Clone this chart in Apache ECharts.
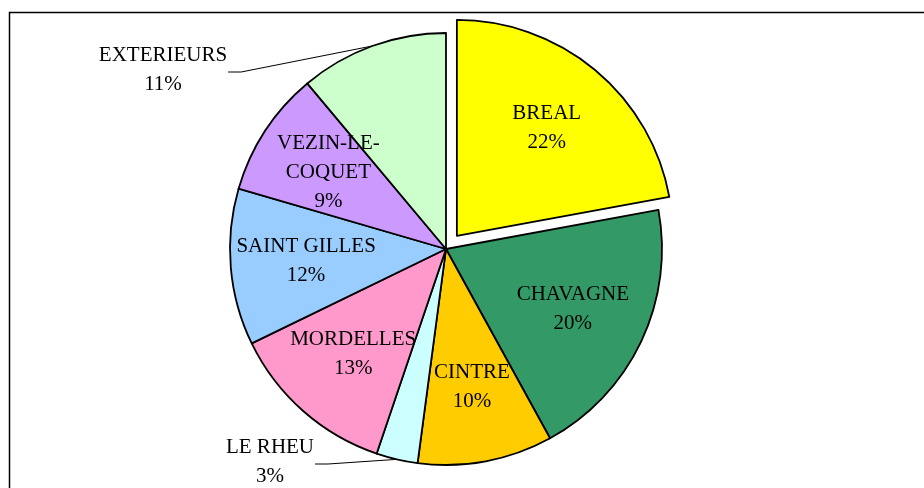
<!DOCTYPE html>
<html><head><meta charset="utf-8">
<script src="https://cdn.jsdelivr.net/npm/echarts@6/dist/echarts.min.js"></script>
<style>html,body{margin:0;padding:0;background:#fff}#c{width:924px;height:488px}</style>
</head><body><div id="c"></div>
<script>
const categories = ['BREAL','CHAVAGNE','CINTRE','LE RHEU','MORDELLES','SAINT GILLES','VEZIN-LE-COQUET','EXTERIEURS'];
const labelTexts = ['BREAL','CHAVAGNE','CINTRE','LE RHEU','MORDELLES','SAINT GILLES','VEZIN-LE-\nCOQUET','EXTERIEURS'];
const values = [22.1, 19.9, 10.1, 3.1, 12.6, 11.7, 9.4, 11.1];
const colors = ['#FFFF00','#339966','#FFCC00','#CCFFFF','#FF99CC','#99CCFF','#CC99FF','#CCFFCC'];

const CX = 446, CY = 249, R = 216, EXPLODE = 17, INNER = 0.65;
const selectedIndex = 0;
// dragged label anchors (label block centers) for the two outside labels
const outsidePos = { 'LE RHEU': [270, 462], 'EXTERIEURS': [163, 70] };

const total = values.reduce((s, v) => s + v, 0);
const midAngle = [];
let acc = 0;
values.forEach(v => { midAngle.push((acc + v / 2) / total * 360); acc += v; });

const sliceData = categories.map((name, i) => ({
  name: name,
  value: values[i],
  selected: i === selectedIndex,
  itemStyle: { color: colors[i] }
}));

const labelData = categories.map((name, i) => {
  const isOut = !!outsidePos[name];
  return {
    name: name,
    value: values[i],
    label: { position: isOut ? 'outside' : 'inside' },
    labelLine: { show: isOut }
  };
});

const chart = echarts.init(document.getElementById('c'), null, { renderer: 'canvas' });
chart.setOption({
  animation: false,
  backgroundColor: '#fff',
  graphic: [{
    type: 'rect', silent: true,
    shape: { x: 9.5, y: 12.5, width: 1000, height: 1000 },
    style: { fill: null, stroke: '#000', lineWidth: 1.5 }
  }],
  series: [{
    type: 'pie',
    center: [CX, CY],
    radius: R,
    startAngle: 90,
    clockwise: true,
    selectedMode: 'single',
    selectedOffset: EXPLODE,
    emphasis: { disabled: true },
    itemStyle: { borderColor: '#000', borderWidth: 1.8 },
    label: { show: false },
    labelLine: { show: false },
    data: sliceData
  }, {
    type: 'pie',
    silent: true,
    center: [CX, CY],
    radius: R,
    startAngle: 90,
    clockwise: true,
    selectedMode: false,
    avoidLabelOverlap: false,
    emphasis: { disabled: true },
    itemStyle: { color: 'rgba(0,0,0,0)', borderWidth: 0 },
    label: {
      show: true,
      fontFamily: 'Liberation Serif',
      fontSize: 21,
      lineHeight: 29,
      color: '#000',
      align: 'center',
      formatter: p => labelTexts[p.dataIndex] + '\n' + Math.round(p.percent) + '%'
    },
    labelLine: { lineStyle: { color: '#000', width: 1 }, smooth: false },
    labelLayout: function (p) {
      const i = p.dataIndex;
      const a = midAngle[i] * Math.PI / 180;
      const off = i === selectedIndex ? EXPLODE : 0;
      const ox = CX + off * Math.sin(a), oy = CY - off * Math.cos(a);
      const name = categories[i];
      if (outsidePos[name]) {
        const lx = outsidePos[name][0], ly = outsidePos[name][1];
        const hw = p.labelRect.width / 2;
        const ex = ox + R * Math.sin(a), ey = oy - R * Math.cos(a);
        return {
          x: lx, y: ly, align: 'center', verticalAlign: 'middle',
          labelLinePoints: [[ex, ey], [lx + hw + 14, ly + 2], [lx + hw + 1, ly + 2]]
        };
      }
      return {
        x: ox + INNER * R * Math.sin(a),
        y: oy - INNER * R * Math.cos(a),
        align: 'center', verticalAlign: 'middle'
      };
    },
    data: labelData
  }]
});
</script>
</body></html>
